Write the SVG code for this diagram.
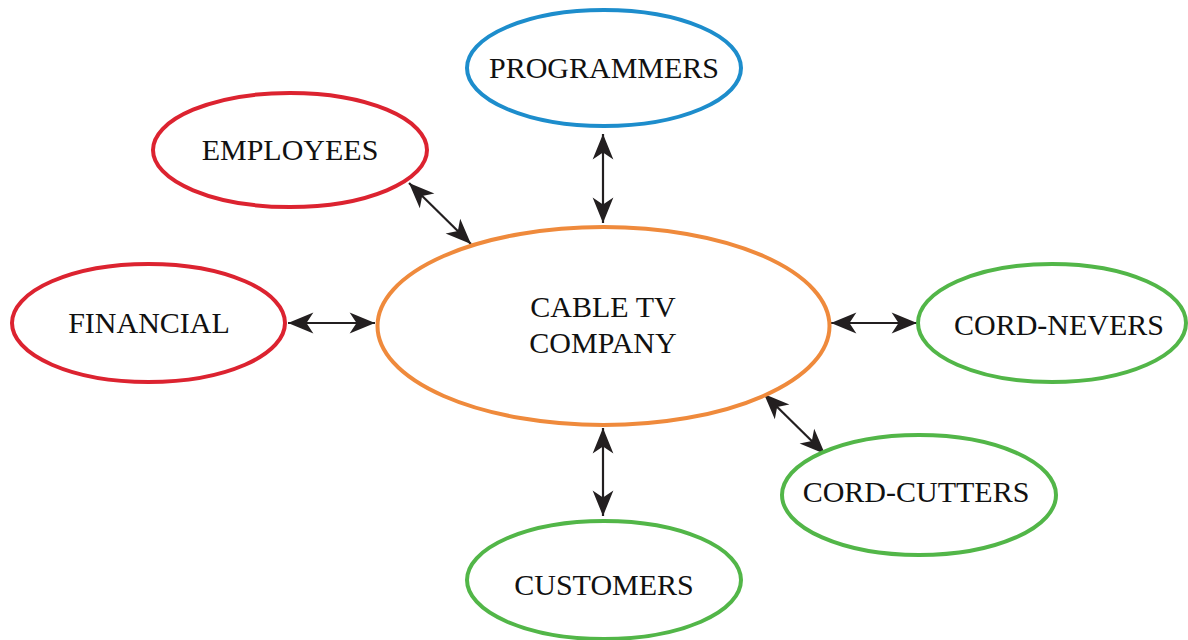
<svg xmlns="http://www.w3.org/2000/svg" width="1188" height="640" viewBox="0 0 1188 640">
<defs>
<style>
.n{fill:#ffffff;stroke-width:4}
.red{stroke:#dc2330}
.blue{stroke:#1d8dcc}
.orange{stroke:#ef8a3c}
.green{stroke:#52b648}
.t{font-family:"Liberation Serif","Times New Roman",serif;font-size:30px;fill:#111111;text-anchor:middle}
.c{stroke:#231f20;stroke-width:2.2;fill:none;marker-start:url(#ah);marker-end:url(#ah)}
</style>
<marker id="ah" markerUnits="userSpaceOnUse" markerWidth="30" markerHeight="30" viewBox="-24 -12 26 24" refX="0" refY="0" orient="auto-start-reverse">
<path d="M0,0 L-22,-9 L-16,0 L-22,9 Z" fill="#231f20"/>
</marker>
</defs>
<rect width="1188" height="640" fill="#ffffff"/>
<g id="connectors">
<line class="c" x1="603" y1="134" x2="603" y2="223"/>
<line class="c" x1="409" y1="183" x2="471" y2="244"/>
<line class="c" x1="288" y1="323" x2="375" y2="323"/>
<line class="c" x1="831" y1="323" x2="917" y2="323"/>
<line class="c" x1="764" y1="394" x2="825" y2="454"/>
<line class="c" x1="603" y1="428" x2="603" y2="516"/>
</g>
<g id="cable-tv">
<ellipse class="n orange" cx="603.5" cy="326" rx="226" ry="99"/>
<text class="t" x="603" y="317">CABLE TV</text>
<text class="t" x="603" y="353">COMPANY</text>
</g>
<g id="programmers">
<ellipse class="n blue" cx="604" cy="68" rx="137" ry="58"/>
<text class="t" x="604" y="78">PROGRAMMERS</text>
</g>
<g id="employees">
<ellipse class="n red" cx="290" cy="150" rx="137" ry="57"/>
<text class="t" x="290" y="160">EMPLOYEES</text>
</g>
<g id="financial">
<ellipse class="n red" cx="148.5" cy="323" rx="136.5" ry="59"/>
<text class="t" x="149" y="333">FINANCIAL</text>
</g>
<g id="cord-nevers">
<ellipse class="n green" cx="1052" cy="323" rx="134" ry="59"/>
<text class="t" x="1059" y="335">CORD-NEVERS</text>
</g>
<g id="cord-cutters">
<ellipse class="n green" cx="919" cy="495" rx="137" ry="60"/>
<text class="t" x="916" y="502">CORD-CUTTERS</text>
</g>
<g id="customers">
<ellipse class="n green" cx="604" cy="580" rx="137" ry="59"/>
<text class="t" x="604" y="595">CUSTOMERS</text>
</g>
</svg>
